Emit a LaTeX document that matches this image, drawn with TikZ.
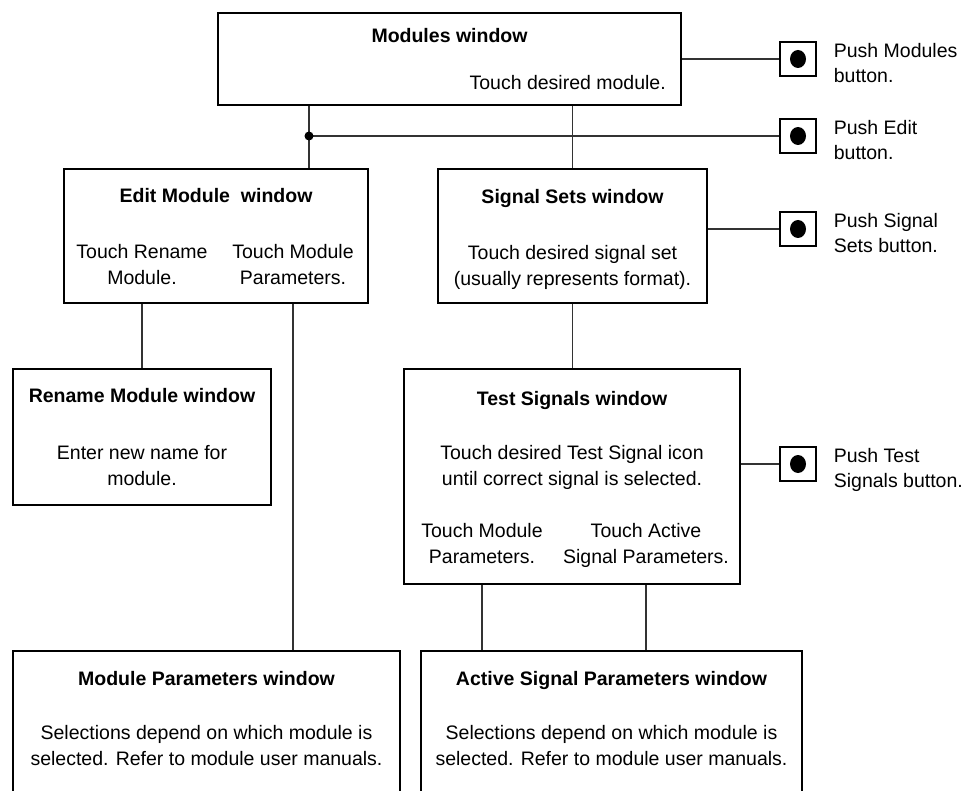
\documentclass[tikz,border=0pt]{standalone}
\usepackage{fontspec}
\setmainfont{Liberation Sans}
\usetikzlibrary{calc,positioning}
\definecolor{ink}{HTML}{000000}
\definecolor{wire}{HTML}{333333}
\tikzset{
  win/.style={draw=ink, line width=2.8pt, inner sep=0pt},
  link/.style={draw=wire, line width=1.3pt},
  ttl/.style={anchor=north, inner sep=0pt, font=\fontsize{19.5pt}{26pt}\selectfont\bfseries},
  txt/.style={anchor=north, inner sep=0pt, align=center, font=\fontsize{19.5pt}{26pt}\selectfont},
  btn/.style={draw=ink, line width=1.3pt, minimum width=36pt, minimum height=34pt, inner sep=0pt,
    path picture={\fill[ink] (path picture bounding box.center) ellipse (8pt and 9pt);}},
  btntxt/.style={anchor=north west, inner sep=0pt, align=left, font=\fontsize{19.5pt}{25pt}\selectfont},
  jdot/.style={circle, fill=ink, inner sep=0pt, minimum size=9pt},
}

\begin{document}
\begin{tikzpicture}[x=1pt,y=-1pt]
  \clip (0,0) rectangle (976,791);

  % windows
  \node[win, minimum width=463pt, minimum height=92pt]  (mods)   at (449.5,59)  {};
  \node[win, minimum width=304pt, minimum height=134pt] (edit)   at (216,236)   {};
  \node[win, minimum width=269pt, minimum height=134pt] (sets)   at (572.5,236) {};
  \node[win, minimum width=258pt, minimum height=136pt] (rename) at (142,437)   {};
  \node[win, minimum width=336pt, minimum height=215pt] (test)   at (572,476.5) {};
  \node[win, minimum width=387pt, minimum height=160pt] (mpar)   at (206.5,731) {};
  \node[win, minimum width=381pt, minimum height=160pt] (apar)   at (611.5,731) {};

  \node[ttl] (modsT)   at ($(mods.north)+(0,17)$)   {Modules window};
  \node[txt, anchor=north east] (modsA) at (666,75) {Touch desired module.};

  \node[ttl] (editT)   at ($(edit.north)+(0,21)$)   {Edit Module\ \ window};
  \node[txt] (editL)   at (142,244) {Touch Rename\\Module.};
  \node[txt] (editR)   at (293,244) {Touch Module\\Parameters.};

  \node[ttl] (setsT)   at ($(sets.north)+(0,22)$)   {Signal Sets window};
  \node[txt] (setsA)   at (572.5,245) {Touch desired signal set\\(usually represents format).};

  \node[ttl] (renameT) at ($(rename.north)+(0,21)$) {Rename Module window};
  \node[txt] (renameA) at (142,445) {Enter new name for\\module.};

  \node[ttl] (testT)   at ($(test.north)+(0,24)$)   {Test Signals window};
  \node[txt] (testA)   at (572,445) {Touch desired Test Signal icon\\until correct signal is selected.};
  \node[txt] (testL)   at (482,523) {Touch Module\\Parameters.};
  \node[txt] (testR)   at (646,523) {Touch Active\\Signal Parameters.};

  \node[ttl] (mparT)   at ($(mpar.north)+(0,22)$)   {Module Parameters window};
  \node[txt] (mparA)   at (206.5,725) {Selections depend on which module is\\selected. Refer to module user manuals.};

  \node[ttl] (aparT)   at ($(apar.north)+(0,22)$)   {Active Signal Parameters window};
  \node[txt] (aparA)   at (611.5,725) {Selections depend on which module is\\selected. Refer to module user manuals.};

  % front panel buttons
  \node[btn] (b1) at (798,59)  {};
  \node[btn] (b2) at (798,136) {};
  \node[btn] (b3) at (798,229) {};
  \node[btn] (b4) at (798,464) {};
  \node[btntxt] (b1T) at ($(b1.north east)+(17,2)$) {Push Modules\\button.};
  \node[btntxt] (b2T) at ($(b2.north east)+(17,2)$) {Push Edit\\button.};
  \node[btntxt] (b3T) at ($(b3.north east)+(17,2)$) {Push Signal\\Sets button.};
  \node[btntxt] (b4T) at ($(b4.north east)+(17,2)$) {Push Test\\Signals button.};

  % connectors
  \coordinate (jn) at (309,136);
  \draw[link] (mods.east) -- (b1.west);
  \draw[link] (jn |- mods.south) -- (jn |- edit.north);
  \draw[link] (jn) -- (b2.west);
  \node[jdot] (jnD) at (jn) {};
  \draw[link] (sets.north) -- (sets.north |- mods.south);
  \draw[link] (b3.west) -- (b3.west -| sets.east);
  \draw[link] (sets.south) -- (sets.south |- test.north);
  \draw[link] (b4.west) -- (b4.west -| test.east);
  \draw[link] (rename.north) -- (rename.north |- edit.south);
  \draw[link] (editR.south |- edit.south) -- (editR.south |- mpar.north);
  \draw[link] (testL.south |- test.south) -- (testL.south |- apar.north);
  \draw[link] (testR.south |- test.south) -- (testR.south |- apar.north);
\end{tikzpicture}
\end{document}
